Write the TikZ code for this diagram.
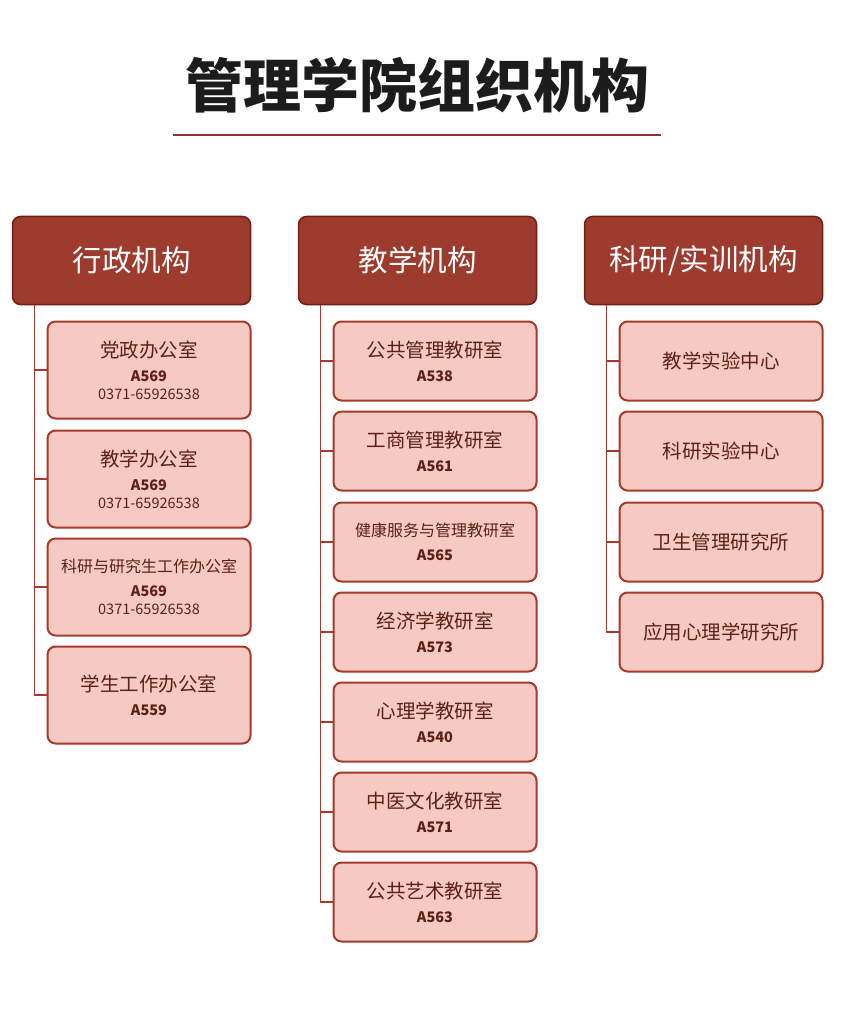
\documentclass[tikz,border=0pt]{standalone}
\usepackage{fontspec}
\setmainfont{Noto Sans CJK SC}
\usepackage{tikz}

\definecolor{headfill}{HTML}{9C3B2E}
\definecolor{headline}{HTML}{6E1F16}
\definecolor{unitfill}{HTML}{F4CAC3}
\definecolor{unitline}{HTML}{A63A2C}
\definecolor{unittext}{HTML}{5E2016}
\definecolor{titletext}{HTML}{1C1C1C}

\newcommand\unitname[1]{{\fontsize{19.5}{19.5}\selectfont #1}\\[6pt]}
\newcommand\smallname[1]{{\fontsize{16}{16}\selectfont #1}\\[6pt]}
\newcommand\unitcode[1]{{\bfseries #1}}

\tikzset{
  headbox/.style={draw=headline, fill=headfill, line width=1.5pt, rounded corners=8pt,
    minimum width=238pt, minimum height=88pt, text=white, font=\fontsize{29.5}{29.5}\selectfont},
  unitbox/.style={draw=unitline, fill=unitfill, line width=2pt, rounded corners=8pt,
    minimum width=203pt, text=unittext, align=center, inner sep=0pt,
    font=\fontsize{14.5}{18}\selectfont},
  tall/.style={unitbox, minimum height=97pt},
  short/.style={unitbox, minimum height=79pt},
  trunk/.style={draw=unitline, line width=1.8pt}
}

\begin{document}
\begin{tikzpicture}[x=1pt,y=-1pt]
  \useasboundingbox (0,0) rectangle (850,1032);

  % title
  \node [text=titletext, font=\bfseries\fontsize{58}{58}\selectfont] (title) at (417.5,85) {管理学院组织机构};
  \coordinate (ruleL) at (173,135);
  \coordinate (ruleR) at (661,135);
  \draw [headfill!90!black, line width=2pt] (ruleL) -- (ruleR);

  % column heads
  \node [headbox] (hA) at (131.5,260.5) {行政机构};
  \node [headbox] (hB) at (417.5,260.5) {教学机构};
  \node [headbox] (hC) at (703.5,260.5) {科研/实训机构};

  % administration
  \node [tall] (a1) at (149,370) {\unitname{党政办公室}\unitcode{A569}\\0371-65926538};
  \node [tall] (a2) at (149,479) {\unitname{教学办公室}\unitcode{A569}\\0371-65926538};
  \node [tall] (a3) at (149,587) {\smallname{科研与研究生工作办公室}\unitcode{A569}\\0371-65926538};
  \node [tall] (a4) at (149,695) {\unitname{学生工作办公室}\unitcode{A559}};

  % teaching
  \node [short] (b1) at (435,361) {\unitname{公共管理教研室}\unitcode{A538}};
  \node [short] (b2) at (435,451) {\unitname{工商管理教研室}\unitcode{A561}};
  \node [short] (b3) at (435,542) {\smallname{健康服务与管理教研室}\unitcode{A565}};
  \node [short] (b4) at (435,632) {\unitname{经济学教研室}\unitcode{A573}};
  \node [short] (b5) at (435,722) {\unitname{心理学教研室}\unitcode{A540}};
  \node [short] (b6) at (435,812) {\unitname{中医文化教研室}\unitcode{A571}};
  \node [short] (b7) at (435,902) {\unitname{公共艺术教研室}\unitcode{A563}};

  % research
  \node [short, font=\fontsize{19.5}{19.5}\selectfont] (c1) at (721,361) {教学实验中心};
  \node [short, font=\fontsize{19.5}{19.5}\selectfont] (c2) at (721,451) {科研实验中心};
  \node [short, font=\fontsize{19.5}{19.5}\selectfont] (c3) at (721,542) {卫生管理研究所};
  \node [short, font=\fontsize{19.5}{19.5}\selectfont] (c4) at (721,632) {应用心理学研究所};

  % connectors
  \coordinate (tA) at ([xshift=-12pt]a1.west |- hA.south);
  \coordinate (tB) at ([xshift=-12pt]b1.west |- hB.south);
  \coordinate (tC) at ([xshift=-12pt]c1.west |- hC.south);
  \draw [trunk] (tA) |- (a4.west);
  \draw [trunk] (tB) |- (b7.west);
  \draw [trunk] (tC) |- (c4.west);
  \foreach \i in {1,2,3}
    \draw [trunk] (tA |- a\i.west) -- (a\i.west);
  \foreach \i in {1,...,6}
    \draw [trunk] (tB |- b\i.west) -- (b\i.west);
  \foreach \i in {1,2,3}
    \draw [trunk] (tC |- c\i.west) -- (c\i.west);
\end{tikzpicture}
\end{document}
